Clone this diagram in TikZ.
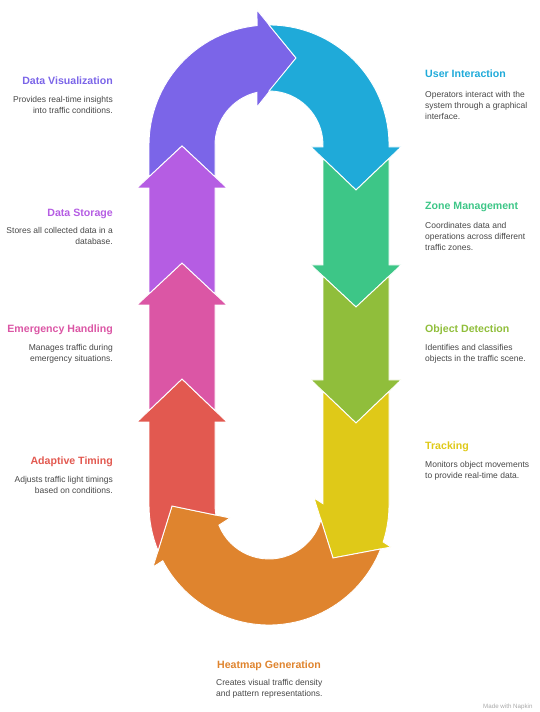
\documentclass[tikz,border=0pt]{standalone}
\usepackage{fontspec}
\setmainfont{Liberation Sans}
\usepackage{tikz}
\pgfdeclarelayer{edgelayer}
\pgfdeclarelayer{nodelayer}
\pgfsetlayers{edgelayer,nodelayer,main}
\definecolor{cviz}{HTML}{7B65E8}
\definecolor{cuser}{HTML}{1FAAD9}
\definecolor{czone}{HTML}{3DC687}
\definecolor{cobject}{HTML}{90BE3B}
\definecolor{ctrack}{HTML}{DFC918}
\definecolor{cheat}{HTML}{DF842E}
\definecolor{cadapt}{HTML}{E25950}
\definecolor{cemerg}{HTML}{DB56A5}
\definecolor{cstore}{HTML}{B55DE3}
\definecolor{cdesc}{HTML}{474747}
\definecolor{cmark}{HTML}{A8A8A8}
\tikzstyle{band}=[draw=white,line width=0.9pt,line join=miter]
\tikzstyle{title}=[inner sep=0pt,font=\fontsize{10.6}{12}\selectfont\bfseries]
\tikzstyle{lefttitle}=[style=title,anchor=base east]
\tikzstyle{righttitle}=[style=title,anchor=base west]
\tikzstyle{desc}=[inner sep=0pt,text=cdesc,font=\fontsize{8.5}{11.3}\selectfont]
\tikzstyle{leftdesc}=[style=desc,anchor=north east,align=right]
\tikzstyle{rightdesc}=[style=desc,anchor=north west,align=left]
\tikzstyle{madewith}=[inner sep=0pt,text=cmark,font=\fontsize{6.2}{7}\selectfont,anchor=base west]

\begin{document}
\begin{tikzpicture}[x=1pt,y=1pt]
	\useasboundingbox (0,0) rectangle (540,712);
	\coordinate (T) at (269,567);
	\coordinate (B) at (269,207);
	\begin{pgfonlayer}{edgelayer}
		% top arch
		\filldraw [style=band, fill=cviz] (149,535.2) -- (182,566) -- (215,535.2) -- (215,567)
			arc[start angle=180, end angle=102.8, radius=54pt] -- (257,605) -- (296,654) -- (257,702)
			-- ([shift={(95.7:120pt)}]T) arc[start angle=95.7, end angle=180, radius=120pt] -- cycle;
		\filldraw [style=band, fill=cuser] ([shift={(90:120pt)}]T) arc[start angle=90, end angle=0, radius=120pt]
			-- (389,565) -- (401,565) -- (356,522) -- (311,565) -- (323,565) -- (323,567)
			arc[start angle=0, end angle=90, radius=54pt] -- (296,654) -- cycle;
		% right column
		\filldraw [style=band, fill=czone] (323,553.5) -- (356,522) -- (389,553.5) -- (389,447) -- (401,447)
			-- (356,405) -- (311,447) -- (323,447) -- cycle;
		\filldraw [style=band, fill=cobject] (323,435.8) -- (356,405) -- (389,435.8) -- (389,332) -- (401,332)
			-- (356,289) -- (311,332) -- (323,332) -- cycle;
		\filldraw [style=band, fill=ctrack] (323,320.5) -- (356,289) -- (389,320.5) -- (389,207)
			arc[start angle=0, end angle=-17.95, radius=120pt] -- (391,165) -- (333,154) -- (314,214)
			-- (323,208.3) -- cycle;
		% bottom arch
		\filldraw [style=band, fill=cheat] ([shift={(-21.5:120pt)}]B) arc[start angle=-21.5, end angle=-152.3, radius=120pt]
			-- (153,145) -- (172,206) -- (230,194) -- ([shift={(-158.1:54pt)}]B)
			arc[start angle=-158.1, end angle=-15.9, radius=54pt] -- (333,154) -- cycle;
		% left column
		\filldraw [style=band, fill=cadapt] (149,290) -- (149,207) arc[start angle=180, end angle=202.4, radius=120pt]
			-- (172,206) -- ([shift={(190.8:54pt)}]B) arc[start angle=190.8, end angle=180, radius=54pt]
			-- (215,290) -- (227,290) -- (182,333) -- (137,290) -- cycle;
		\filldraw [style=band, fill=cemerg] (149,301.5) -- (182,333) -- (215,301.5) -- (215,407) -- (227,407)
			-- (182,449) -- (137,407) -- (149,407) -- cycle;
		\filldraw [style=band, fill=cstore] (149,418.2) -- (182,449) -- (215,418.2) -- (215,524) -- (227,524)
			-- (182,566) -- (137,524) -- (149,524) -- cycle;
	\end{pgfonlayer}
	\begin{pgfonlayer}{nodelayer}
		\node [style=lefttitle, text=cviz] (vizT) at (113,627.8) {Data Visualization};
		\node [style=leftdesc] (vizD) at (113,616) {Provides real-time insights\\into traffic conditions.};
		\node [style=lefttitle, text=cstore] (storeT) at (113,495.8) {Data Storage};
		\node [style=leftdesc] (storeD) at (113,485) {Stores all collected data in a\\database.};
		\node [style=lefttitle, text=cemerg] (emergT) at (113,379.8) {Emergency Handling};
		\node [style=leftdesc] (emergD) at (113,368) {Manages traffic during\\emergency situations.};
		\node [style=lefttitle, text=cadapt] (adaptT) at (113,247.8) {Adaptive Timing};
		\node [style=leftdesc] (adaptD) at (113,236) {Adjusts traffic light timings\\based on conditions.};
		\node [style=righttitle, text=cuser] (userT) at (425,634.8) {User Interaction};
		\node [style=rightdesc] (userD) at (425,621) {Operators interact with the\\system through a graphical\\interface.};
		\node [style=righttitle, text=czone] (zoneT) at (425,502.8) {Zone Management};
		\node [style=rightdesc] (zoneD) at (425,490) {Coordinates data and\\operations across different\\traffic zones.};
		\node [style=righttitle, text=cobject] (objectT) at (425,379.8) {Object Detection};
		\node [style=rightdesc] (objectD) at (425,368) {Identifies and classifies\\objects in the traffic scene.};
		\node [style=righttitle, text=ctrack] (trackT) at (425,262.8) {Tracking};
		\node [style=rightdesc] (trackD) at (425,251) {Monitors object movements\\to provide real-time data.};
		\node [style=righttitle, text=cheat] (heatT) at (217,43.8) {Heatmap Generation};
		\node [style=rightdesc] (heatD) at (216,33) {Creates visual traffic density\\and pattern representations.};
		\node [style=madewith] (madeby) at (483,3) {Made with Napkin};
	\end{pgfonlayer}
\end{tikzpicture}
\end{document}
